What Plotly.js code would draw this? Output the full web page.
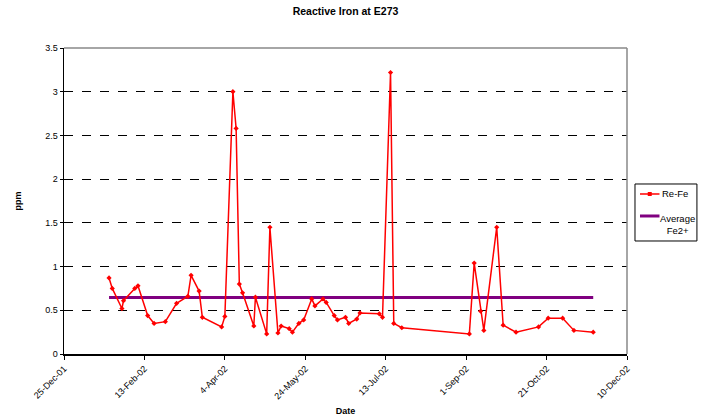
<!DOCTYPE html>
<html>
<head>
<meta charset="utf-8">
<script src="https://cdn.plot.ly/plotly-3.0.1.min.js"></script>
<style>html,body{margin:0;padding:0;background:#fff;}#chart{width:704px;height:419px;}</style>
</head>
<body>
<div id="chart"></div>
<script>
const dates = [
  "2002-01-22","2002-01-24","2002-01-30","2002-01-31","2002-02-07","2002-02-09","2002-02-15","2002-02-19",
  "2002-02-26","2002-03-05","2002-03-12","2002-03-14","2002-03-19","2002-03-21","2002-04-02","2002-04-04",
  "2002-04-09","2002-04-11","2002-04-13","2002-04-15","2002-04-22","2002-04-23","2002-04-30","2002-05-02",
  "2002-05-07","2002-05-09","2002-05-14","2002-05-16","2002-05-20","2002-05-23","2002-05-28","2002-05-30",
  "2002-06-04","2002-06-06","2002-06-11","2002-06-13","2002-06-18","2002-06-20","2002-06-25","2002-06-27",
  "2002-07-09","2002-07-11","2002-07-16","2002-07-18","2002-07-23","2002-09-03","2002-09-06","2002-09-10",
  "2002-09-12","2002-09-20","2002-09-24","2002-10-02","2002-10-16","2002-10-22","2002-10-31","2002-11-07",
  "2002-11-19"
];
const reFe = [
  0.87,0.75,0.52,0.61,0.75,0.78,0.44,0.35,
  0.37,0.58,0.66,0.90,0.72,0.42,0.31,0.43,
  3.00,2.58,0.80,0.70,0.32,0.65,0.23,1.45,
  0.24,0.32,0.29,0.25,0.35,0.39,0.63,0.55,
  0.63,0.59,0.44,0.39,0.42,0.35,0.40,0.47,
  0.46,0.42,3.22,0.35,0.30,0.23,1.04,0.49,
  0.27,1.45,0.33,0.25,0.31,0.41,0.41,0.27,
  0.25
];
const avgDates = ["2002-01-22","2002-11-19"];
const avgFe2 = [0.645,0.645];
const seriesNames = ["Re-Fe","Average<br>Fe2+"];
const redColor = "#FF0000", purpleColor = "#800080";

const font = {family:"Liberation Sans, Arial, sans-serif", size:9, color:"#000"};

const traces = [
  {x:avgDates, y:avgFe2, type:"scatter", mode:"lines", name:seriesNames[1],
   line:{color:purpleColor, width:3}},
  {x:dates, y:reFe, type:"scatter", mode:"lines+markers", name:seriesNames[0],
   line:{color:redColor, width:1.5}, marker:{symbol:"diamond", size:4, color:redColor}}
];

// custom legend (box outside plot area, right side)
const legFont = {family:font.family, size:9.5, color:"#000"};
const shapes = [
  {type:"line", xref:"paper", yref:"paper", x0:0, x1:1, y0:1, y1:1, line:{color:"#888", width:1.5}, layer:"above"},
  {type:"line", xref:"paper", yref:"paper", x0:1, x1:1, y0:0, y1:1, line:{color:"#888", width:1.5}, layer:"above"},
  {type:"rect", xref:"paper", yref:"paper", x0:1.0142, x1:1.1242, y0:0.3693, y1:0.5556, line:{color:"#000", width:1}, fillcolor:"#fff"},
  {type:"line", xref:"paper", yref:"paper", x0:1.0231, x1:1.0577, y0:0.5229, y1:0.5229, line:{color:redColor, width:1.5}},
  {type:"rect", xref:"paper", yref:"paper", xsizemode:"pixel", ysizemode:"pixel", xanchor:1.0404, yanchor:0.5229,
   x0:-2, x1:2, y0:-2, y1:2, line:{width:0}, fillcolor:redColor},
  {type:"line", xref:"paper", yref:"paper", x0:1.0231, x1:1.0577, y0:0.451, y1:0.451, line:{color:purpleColor, width:3}}
];
const annotations = [
  {xref:"paper", yref:"paper", x:1.0595, y:0.5229, xanchor:"left", yanchor:"middle", text:seriesNames[0], showarrow:false, font:legFont},
  {xref:"paper", yref:"paper", x:1.0896, y:0.4248, xanchor:"center", yanchor:"middle", align:"center", text:seriesNames[1], showarrow:false, font:legFont}
];

const layout = {
  width:704, height:419,
  margin:{l:63.5, r:77, t:48, b:65, autoexpand:false},
  paper_bgcolor:"#fff", plot_bgcolor:"#fff",
  font:font,
  title:{text:"<b>Reactive Iron at E273</b>", font:{family:font.family, size:10.5, color:"#000"},
         x:0.5, xref:"paper", y:0.972, yanchor:"middle"},
  showlegend:false,
  xaxis:{type:"date", range:["2001-12-25","2002-12-10"], tick0:"2001-12-25", dtick:50*86400000,
         tickformat:"%-d-%b-%y", tickangle:-45, ticks:"outside", ticklen:4, tickcolor:"#000",
         showgrid:false, zeroline:false, showline:true, linecolor:"#000", linewidth:2,
         tickfont:font, title:{text:"<b>Date</b>", font:font, standoff:7}},
  yaxis:{range:[0,3.5], dtick:0.5, ticks:"outside", ticklen:3, tickcolor:"#000",
         showgrid:true, gridcolor:"#000", griddash:"dash", gridwidth:1,
         zeroline:false, showline:true, linecolor:"#000", linewidth:1.5,
         tickfont:font, title:{text:"<b>ppm</b>", font:font, standoff:22}},
  shapes:shapes,
  annotations:annotations
};

Plotly.newPlot("chart", traces, layout, {displayModeBar:false, staticPlot:true});
</script>
</body>
</html>
